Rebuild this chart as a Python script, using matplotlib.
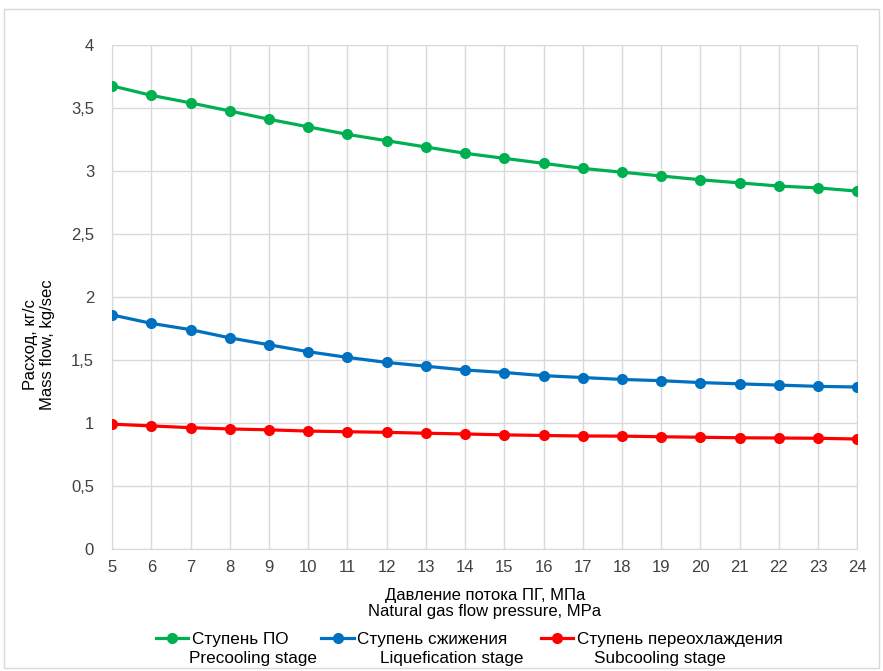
import numpy as np
import matplotlib.pyplot as plt
from matplotlib.patches import Rectangle

plt.rcParams['font.family'] = ['Liberation Sans', 'DejaVu Sans']

# данные
pressure = np.arange(5, 25)
precooling = [3.675, 3.60, 3.54, 3.476, 3.41, 3.35, 3.29, 3.24, 3.19, 3.14,
              3.10, 3.06, 3.02, 2.99, 2.96, 2.93, 2.905, 2.88, 2.865, 2.84]
liquefaction = [1.857, 1.79, 1.74, 1.675, 1.62, 1.565, 1.52, 1.48, 1.45, 1.42,
                1.40, 1.375, 1.36, 1.345, 1.335, 1.32, 1.31, 1.30, 1.29, 1.285]
subcooling = [0.99, 0.976, 0.962, 0.952, 0.945, 0.935, 0.93, 0.925, 0.918, 0.912,
              0.905, 0.90, 0.896, 0.895, 0.89, 0.886, 0.882, 0.88, 0.878, 0.872]

labels_ru = ["Ступень ПО", "Ступень сжижения", "Ступень переохлаждения"]
labels_en = ["Precooling stage", "Liquefication stage", "Subcooling stage"]
colors = ["#00b050", "#0070c0", "#ff0000"]
yticks = [0, 0.5, 1, 1.5, 2, 2.5, 3, 3.5, 4]

fs = 12

fig = plt.figure(figsize=(8.83, 6.71), dpi=100)
ax = fig.add_axes([0.127, 0.182, 0.844, 0.751])

for serie, lab, col in zip([precooling, liquefaction, subcooling], labels_ru, colors):
    ax.plot(pressure, serie, color=col, lw=2.3, marker='o', ms=7, label=lab, zorder=3)

ax.set_xlim(5, 24)
ax.set_ylim(0, 4)
ax.set_xticks(pressure)
ax.set_yticks(yticks)
ax.set_yticklabels([str(v).replace('.', ',').replace(',0', '') if v != 0 else '0' for v in yticks])
ax.tick_params(length=0, labelsize=fs, colors='#404040')
ax.tick_params(axis='x', pad=8)
ax.tick_params(axis='y', pad=13)
ax.grid(True, color='#d9d9d9', lw=1)
for s in ax.spines.values():
    s.set_color('#d9d9d9')

ax.set_xlabel("Давление потока ПГ, МПа\nNatural gas flow pressure, MPa", fontsize=fs,
              labelpad=9.5, linespacing=1.1)
ax.set_ylabel("Расход, кг/с\nMass flow, kg/sec", fontsize=fs, linespacing=1.12)
ax.yaxis.set_label_coords(-0.077, 0.405)

leg = ax.legend(loc='upper center', bbox_to_anchor=(0.479, -0.141), ncol=3, frameon=False,
                fontsize=12.3, handlelength=1.9, handletextpad=0.2, columnspacing=1.95,
                borderpad=0.2)

fig.canvas.draw()
# английские подписи под легендой
offsets = [-3, 23, 17]
for t, en, dx in zip(leg.get_texts(), labels_en, offsets):
    bb = t.get_window_extent()
    x, y = fig.transFigure.inverted().transform((bb.x0 + dx, bb.y0 - 4))
    fig.text(x, y, en, fontsize=12.3, va='top', ha='left')

fig.patches.append(Rectangle((0.005, 0.005), 0.99, 0.982, transform=fig.transFigure,
                             fill=False, edgecolor='#d9d9d9', lw=1))

fig.savefig('out.png', dpi=100)
